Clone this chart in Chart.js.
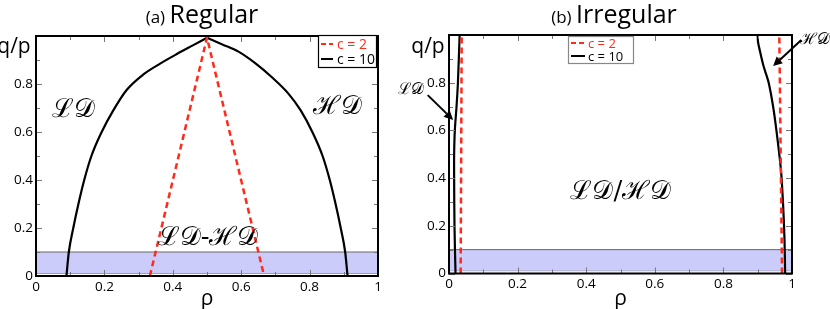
<!DOCTYPE html>
<html>
<head>
<meta charset="utf-8">
<script src="https://cdn.jsdelivr.net/npm/chart.js@4.4.1/dist/chart.umd.min.js"></script>
<style>
  body { margin: 0; background: #fff; width: 830px; height: 309px; position: relative; overflow: hidden; }
  .panel { position: absolute; top: 0; height: 309px; }
  #boxA { left: 0; width: 398px; }
  #boxB { left: 398px; width: 432px; }
</style>
</head>
<body>
<div class="panel" id="boxA"><canvas id="chartA"></canvas></div>
<div class="panel" id="boxB"><canvas id="chartB"></canvas></div>
<script>
// (a) Regular
const regC2Rho = [0.333, 0.5, 0.667];
const regC2Q = [0, 0.993, 0];
// c = 10 curve, left branch up to the peak, then right branch down
const regC10LeftRho = [0.089, 0.096, 0.109, 0.124, 0.141, 0.162, 0.192, 0.226, 0.265, 0.314, 0.363, 0.412, 0.460, 0.5];
const regC10LeftQ = [0, 0.1, 0.2, 0.3, 0.4, 0.5, 0.6, 0.69, 0.775, 0.840, 0.885, 0.925, 0.962, 0.993];
const regC10RightRho = [0.5, 0.545, 0.592, 0.640, 0.689, 0.738, 0.774, 0.808, 0.838, 0.859, 0.876, 0.891, 0.904, 0.911];
const regC10RightQ = [0.993, 0.965, 0.935, 0.888, 0.829, 0.76, 0.69, 0.6, 0.5, 0.4, 0.3, 0.2, 0.1, 0];

// (b) Irregular
const irrC2LeftRho = [0.034, 0.037];
const irrC2RightRho = [0.971, 0.963];
const irrC2Q = [0, 1];
const irrC10LeftRho = [0.019, 0.016, 0.015, 0.015, 0.017, 0.022, 0.026, 0.031];
const irrC10LeftQ = [0, 0.2, 0.4, 0.5, 0.6, 0.7, 0.8, 1];
const irrC10RightRho = [0.980, 0.978, 0.974, 0.968, 0.958, 0.946, 0.932, 0.917, 0.907, 0.901, 0.900];
const irrC10RightQ = [0, 0.15, 0.29, 0.43, 0.56, 0.69, 0.8, 0.87, 0.93, 0.97, 1];

// shaded band
const bandLow = 0.012;
const bandHigh = 0.1;

const xTicks = [0, 0.2, 0.4, 0.6, 0.8, 1];
const yTicks = [0, 0.2, 0.4, 0.6, 0.8];

const FONT = '"Open Sans", "DejaVu Sans", sans-serif';
const SCRIPT = '"DejaVu Serif", "Liberation Serif", serif';
const RED = '#ff2a1a';

function pts(xs, ys) {
  return xs.map((x, i) => ({ x: x, y: ys[i] }));
}

function bandSets() {
  return [
    { data: pts([0, 1], [bandHigh, bandHigh]), fill: { value: bandLow }, backgroundColor: '#ccccfb',
      borderColor: '#666', borderWidth: 1, order: 5 },
    { data: pts([0, 1], [bandLow, bandLow]), fill: false, borderColor: '#666', borderWidth: 1, order: 5 }
  ];
}

function redLine(xs, ys) {
  return { data: pts(xs, ys), borderColor: RED, borderWidth: 2.5, borderDash: [6, 4], fill: false, order: 0 };
}
function blackLine(xs, ys, mono) {
  const d = { data: pts(xs, ys), borderColor: '#000', borderWidth: 2.2, fill: false, order: 1, tension: 0.3 };
  if (mono) d.cubicInterpolationMode = 'monotone';
  return d;
}

function drawArrow(ctx, x1, y1, x2, y2) {
  const a = Math.atan2(y2 - y1, x2 - x1);
  const L = 9, W = 4.5;
  const bx = x2 - L * Math.cos(a), by = y2 - L * Math.sin(a);
  ctx.strokeStyle = '#000';
  ctx.lineWidth = 2;
  ctx.beginPath();
  ctx.moveTo(x1, y1);
  ctx.lineTo(bx, by);
  ctx.stroke();
  ctx.fillStyle = '#000';
  ctx.beginPath();
  ctx.moveTo(x2, y2);
  ctx.lineTo(bx + W * Math.sin(a), by - W * Math.cos(a));
  ctx.lineTo(bx - W * Math.sin(a), by + W * Math.cos(a));
  ctx.closePath();
  ctx.fill();
}

// frame, inward ticks, texts, legend and arrows
const decor = {
  id: 'decor',
  afterDatasetsDraw(chart) {
    const ctx = chart.ctx;
    const a = chart.chartArea;
    const sx = chart.scales.x, sy = chart.scales.y;
    const o = chart.options.plugins.decor;
    ctx.save();
    // inward ticks
    ctx.strokeStyle = '#777';
    ctx.lineWidth = 1;
    for (let i = 0; i <= 10; i++) {
      const len = i % 2 === 0 ? 6 : 4;
      const px = Math.round(sx.getPixelForValue(i / 10)) + 0.5;
      const py = Math.round(sy.getPixelForValue(i / 10)) + 0.5;
      ctx.beginPath();
      ctx.moveTo(px, a.bottom); ctx.lineTo(px, a.bottom - len);
      ctx.moveTo(px, a.top); ctx.lineTo(px, a.top + len);
      ctx.moveTo(a.left, py); ctx.lineTo(a.left + len, py);
      ctx.moveTo(a.right, py); ctx.lineTo(a.right - len, py);
      ctx.stroke();
    }
    // frame
    ctx.strokeStyle = '#000';
    ctx.lineWidth = 2;
    ctx.strokeRect(a.left, a.top, a.right - a.left, a.bottom - a.top);

    // region labels
    ctx.fillStyle = '#000';
    ctx.textAlign = 'center';
    ctx.textBaseline = 'middle';
    o.notes.forEach(n => {
      ctx.font = n.size + 'px ' + SCRIPT;
      ctx.fillText(n.text, sx.getPixelForValue(n.x), sy.getPixelForValue(n.y));
    });
    o.arrows.forEach(r => {
      drawArrow(ctx, sx.getPixelForValue(r.from[0]), sy.getPixelForValue(r.from[1]),
                sx.getPixelForValue(r.to[0]), sy.getPixelForValue(r.to[1]));
    });

    // legend
    const lg = o.legend;
    ctx.fillStyle = '#fff';
    ctx.fillRect(lg.x, lg.y, lg.w, lg.h);
    ctx.strokeStyle = lg.border;
    ctx.lineWidth = 1.2;
    ctx.strokeRect(lg.x + 0.5, lg.y + 0.5, lg.w, lg.h);
    ctx.font = lg.size + 'px ' + FONT;
    ctx.textAlign = 'left';
    const ds = chart.data.datasets;
    [[ds[2], 'c = 2', RED], [ds[ds.length - 1], 'c = 10', '#000']].forEach((e, i) => {
      const yy = lg.y + lg.row0 + i * lg.rowGap;
      ctx.strokeStyle = e[0].borderColor;
      ctx.lineWidth = 2;
      ctx.setLineDash(e[0].borderDash ? [5, 3] : []);
      ctx.beginPath();
      ctx.moveTo(lg.x + 3, yy);
      ctx.lineTo(lg.x + 3 + lg.sample, yy);
      ctx.stroke();
      ctx.setLineDash([]);
      ctx.fillStyle = e[2];
      ctx.fillText(e[1], lg.x + lg.textX, yy + 1);
    });

    // title
    const t = o.title;
    ctx.fillStyle = '#000';
    ctx.textBaseline = 'alphabetic';
    ctx.font = '17px ' + FONT;
    const w1 = ctx.measureText(t.tag + ' ').width;
    ctx.font = '25px ' + FONT;
    const w2 = ctx.measureText(t.name).width;
    const x0 = t.cx - (w1 + w2) / 2;
    ctx.font = '17px ' + FONT;
    ctx.fillText(t.tag + ' ', x0, 23);
    ctx.font = '25px ' + FONT;
    ctx.fillText(t.name, x0 + w1, 23);

    // axis titles
    ctx.font = '21px ' + FONT;
    ctx.textAlign = 'center';
    ctx.textBaseline = 'middle';
    ctx.fillText('q/p', o.qp[0], o.qp[1]);
    ctx.fillText('ρ', (a.left + a.right) / 2, 299);
    ctx.restore();
  }
};

function makeChart(id, datasets, pad, xh, deco) {
  return new Chart(document.getElementById(id), {
    type: 'scatter',
    data: { datasets: datasets },
    options: {
      responsive: true,
      maintainAspectRatio: false,
      animation: false,
      layout: { padding: pad },
      datasets: { scatter: { showLine: true, pointRadius: 0 } },
      plugins: { legend: { display: false }, tooltip: { enabled: false }, decor: deco },
      scales: {
        x: {
          type: 'linear', min: 0, max: 1,
          grid: { display: false, drawTicks: false }, border: { display: false },
          afterBuildTicks: s => { s.ticks = xTicks.map(v => ({ value: v })); },
          afterFit: s => { s.height = xh; },
          ticks: { padding: 3, maxRotation: 0, color: '#000', font: { family: FONT, size: 13.5 },
                   callback: v => String(v) }
        },
        y: {
          type: 'linear', min: 0, max: 1,
          grid: { display: false, drawTicks: false }, border: { display: false },
          afterBuildTicks: s => { s.ticks = yTicks.map(v => ({ value: v })); },
          afterFit: s => { s.width = 36; },
          ticks: { padding: 3, color: '#000', font: { family: FONT, size: 13.5 },
                   callback: v => String(v) }
        }
      }
    },
    plugins: [decor]
  });
}

makeChart('chartA',
  bandSets().concat([redLine(regC2Rho, regC2Q),
                     blackLine(regC10LeftRho, regC10LeftQ, true), blackLine(regC10RightRho, regC10RightQ, true)]),
  { left: 0, right: 20, top: 36, bottom: 0 }, 33,
  {
    title: { tag: '(a)', name: 'Regular', cx: 202 },
    qp: [14, 47],
    notes: [
      { text: 'ℒ𝒟', x: 0.110, y: 0.692, size: 26 },
      { text: 'ℋ𝒟', x: 0.882, y: 0.704, size: 26 },
      { text: 'ℒ𝒟-ℋ𝒟', x: 0.503, y: 0.158, size: 26 }
    ],
    arrows: [],
    legend: { x: 318, y: 35, w: 58, h: 32, size: 14, row0: 9, rowGap: 15, sample: 12, textX: 19, border: '#000' }
  });

makeChart('chartB',
  bandSets().concat([redLine(irrC2LeftRho, irrC2Q), redLine(irrC2RightRho, irrC2Q),
                     blackLine(irrC10LeftRho, irrC10LeftQ, false), blackLine(irrC10RightRho, irrC10RightQ, false)]),
  { left: 15, right: 38, top: 35, bottom: 0 }, 35.5,
  {
    title: { tag: '(b)', name: 'Irregular', cx: 216 },
    qp: [30, 47],
    notes: [
      { text: 'ℒ𝒟/ℋ𝒟', x: 0.501, y: 0.342, size: 26 },
      { text: 'ℒ𝒟', x: -0.110, y: 0.769, size: 16 },
      { text: 'ℋ𝒟', x: 1.068, y: 0.979, size: 16 }
    ],
    arrows: [
      { from: [-0.062, 0.748], to: [0.012, 0.644] },
      { from: [1.027, 0.979], to: [0.945, 0.870] }
    ],
    legend: { x: 170, y: 36, w: 65, h: 27, size: 13, row0: 7, rowGap: 13, sample: 14, textX: 20, border: '#888' }
  });
</script>
</body>
</html>
